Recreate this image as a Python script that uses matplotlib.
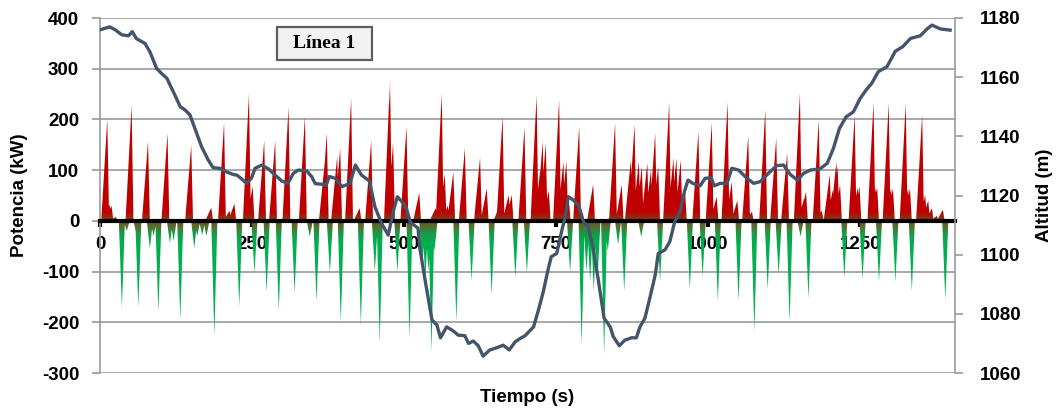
import numpy as np
import matplotlib
matplotlib.use("Agg")
import matplotlib.pyplot as plt
from matplotlib.colors import LinearSegmentedColormap
from matplotlib.patches import Polygon, Rectangle

# Power peaks: (time s, kW)
pos_time = [12, 16, 19, 26, 52, 79, 111, 150, 183, 204, 213, 221, 245, 251, 270, 288,
            310, 337, 370, 373, 390, 395, 413, 427, 446, 477, 482, 504, 525, 552, 558,
            562, 567, 572, 577, 581, 600, 625, 636, 657, 662, 672, 677, 698, 718, 724,
            728, 733, 738, 755, 762, 767, 771, 788, 811, 845, 847, 858, 873, 879, 886,
            891, 900, 906, 913, 918, 936, 943, 948, 955, 962, 984, 1006, 1014, 1032,
            1039, 1048, 1066, 1072, 1094, 1112, 1130, 1151, 1158, 1161, 1182, 1187,
            1200, 1205, 1211, 1213, 1217, 1241, 1246, 1249, 1272, 1276, 1278, 1297,
            1301, 1304, 1325, 1329, 1332, 1352, 1357, 1362, 1368, 1376, 1386]
pos_peak = [201, 32, 30, 8, 228, 157, 173, 149, 26, 193, 20, 34, 252, 68, 158, 158,
            224, 206, 120, 173, 127, 143, 242, 25, 158, 282, 153, 186, 55, 25, 35,
            252, 92, 30, 35, 96, 143, 125, 64, 30, 206, 51, 51, 185, 249, 100,
            157, 153, 60, 239, 117, 117, 40, 186, 72, 30, 193, 71, 120, 190, 117,
            107, 114, 100, 173, 107, 234, 124, 124, 120, 60, 176, 193, 48, 234,
            77, 40, 168, 18, 219, 163, 134, 254, 45, 58, 199, 20,
            91, 61, 117, 107, 71, 209, 66, 68, 234, 66, 66, 232,
            64, 64, 232, 64, 64, 209, 51, 40, 25, 10, 22]

neg_time = [36, 44, 60, 63, 82, 88, 96, 115, 121, 132, 155, 160, 168, 175, 188, 229,
            254, 274, 294, 320, 345, 356, 378, 396, 429, 452, 460, 489, 509, 530, 535,
            540, 545, 550, 586, 611, 644, 683, 702, 773, 792, 800, 806, 812, 818, 829,
            835, 852, 862, 890, 921, 970, 991, 1016, 1050, 1076, 1098, 1116, 1134,
            1152, 1165, 1224, 1254, 1281, 1308, 1335, 1390]
neg_peak = [-172, -20, -28, -170, -55, -30, -179, -44, -40, -195, -54, -30, -28, -30,
            -228, -169, -103, -140, -179, -143, -31, -159, -103, -201, -206, -100, -240,
            -101, -231, -90, -115, -100, -258, -60, -199, -118, -146, -112, -103, -102,
            -245, -100, -120, -140, -120, -264, -60, -47, -139, -31, -120, -136, -110,
            -158, -158, -218, -136, -107, -199, -31, -153, -113, -116, -120, -120,
            -139, -156]

# Altitude profile (time s, m)
alt_time = [0, 16, 25, 36, 47, 53, 60, 74, 82, 93, 101, 110, 123, 132, 140, 148, 156,
            167, 178, 186, 197, 208, 219, 225, 233, 241, 249, 255, 266, 277, 288, 299,
            309, 318, 326, 340, 348, 354, 365, 372, 377, 387, 398, 411, 420, 430, 443,
            452, 463, 474, 482, 489, 499, 504, 510, 523, 526, 535, 546, 554, 560, 570,
            581, 589, 600, 606, 614, 622, 630, 641, 652, 663, 673, 683, 691, 699, 713,
            721, 729, 736, 742, 751, 759, 765, 770, 778, 787, 795, 803, 811, 819, 829,
            839, 844, 854, 863, 874, 882, 888, 896, 904, 913, 918, 929, 937, 945, 954,
            961, 967, 975, 987, 995, 1005, 1010, 1020, 1031, 1039, 1050, 1064, 1075,
            1086, 1099, 1113, 1124, 1135, 1147, 1157, 1168, 1184, 1196, 1206, 1216,
            1227, 1239, 1250, 1260, 1269, 1280, 1294, 1308, 1320, 1333, 1349, 1360,
            1368, 1382, 1398]
alt_m = [1176, 1177, 1176, 1174.3, 1174, 1175.4, 1173, 1171.4, 1168.6, 1163, 1161.3,
         1159.6, 1154, 1150, 1148.9, 1147.2, 1142.7, 1136.5, 1132, 1129.4, 1129.2, 1128,
         1127.1, 1126.9, 1125.6, 1124.1, 1125.8, 1129.2, 1130.3, 1129, 1126.9, 1124.9,
         1124.1, 1127.5, 1128.6, 1128.3, 1126.4, 1124, 1123.8, 1123.5, 1126.4, 1125.8,
         1123, 1124.1, 1130.3, 1126.9, 1124.9, 1116.2, 1110.6, 1106.6, 1114.5, 1119.6,
         1117.3, 1115.6, 1111.1, 1108.9, 1102.1, 1090.9, 1077.9, 1076.2, 1071.9, 1075.6,
         1074.2, 1072.8, 1072.6, 1070, 1070.8, 1069.2, 1065.7, 1067.8, 1068.5, 1069.4,
         1067.8, 1070.6, 1071.7, 1072.6, 1075.6, 1081.3, 1087.5, 1094.2, 1099.3, 1100.4,
         1107.8, 1112.8, 1119.6, 1118.5, 1116.8, 1111.1, 1109.5, 1102.1, 1092, 1078.5,
         1075.6, 1072.3, 1069.2, 1071.1, 1071.9, 1071.9, 1075.6, 1078.5, 1085.2, 1093.1,
         1100.4, 1101.6, 1104.4, 1111.1, 1114.5, 1121.3, 1125.2, 1124.1, 1123.3, 1125.8,
         1126, 1123.3, 1124.1, 1124.1, 1129.2, 1128.6, 1125.8, 1124.1, 1124.7, 1127.5,
         1130.1, 1130.3, 1127.1, 1125.2, 1127.5, 1128.6, 1129, 1130.9, 1135.9, 1142.7,
         1146.6, 1148.3, 1152.8, 1155.7, 1157.9, 1161.9, 1163.5, 1168.8, 1170.3, 1173.1,
         1174, 1176.3, 1177.6, 1176.3, 1175.9]

x_ticks = [0, 250, 500, 750, 1000, 1250]
t_max = 1406

plt.rcParams['font.family'] = ['Liberation Sans', 'DejaVu Sans']
plt.rcParams['font.weight'] = 'bold'
plt.rcParams['axes.unicode_minus'] = False

# build the spiky power trace: each peak is a ramp up and a quick drop
t = np.arange(0, t_max + 0.25, 0.25)
pos = np.zeros_like(t)
for tp, v in zip(pos_time, pos_peak):
    pos = np.maximum(pos, np.interp(t, [tp - 10, tp, tp + 3], [0, v, 0], left=0, right=0))
neg = np.zeros_like(t)
for tp, v in zip(neg_time, neg_peak):
    neg = np.minimum(neg, np.interp(t, [tp - 5, tp, tp + 5], [0, v, 0], left=0, right=0))

fig = plt.figure(figsize=(10.59, 4.12), dpi=100)
ax = fig.add_axes([100 / 1059, 39 / 412, 855 / 1059, 355 / 412])

# vertical colour ramp: pale tips, red above zero, brown at zero, green below
stops = [(-300, (0.93, 0.98, 0.94)), (-250, (0.0, 0.69, 0.31)), (-45, (0.0, 0.69, 0.31)),
         (-25, (0.10, 0.60, 0.28)), (-10, (0.35, 0.42, 0.18)), (0, (0.45, 0.28, 0.12)),
         (18, (0.75, 0.0, 0.0)), (225, (0.75, 0.0, 0.0)), (295, (0.98, 0.88, 0.88)),
         (400, (1, 1, 1))]
cmap = LinearSegmentedColormap.from_list(
    'pot', [((v + 300) / 700, c) for v, c in stops])
grad = np.linspace(-300, 400, 1401).reshape(-1, 1)

for series in (pos, neg):
    verts = np.column_stack([np.r_[t[0], t, t[-1]], np.r_[0, series, 0]])
    poly = Polygon(verts, closed=True, facecolor='none', edgecolor='none')
    ax.add_patch(poly)
    im = ax.imshow(grad, cmap=cmap, vmin=-300, vmax=400, origin='lower', aspect='auto',
                   extent=[0, t_max, -300, 400], interpolation='bilinear', zorder=2)
    im.set_clip_path(poly)

ax.set_xlim(0, t_max)
ax.set_ylim(-300, 400)

ax.set_yticks(range(-300, 401, 100))
ax.grid(axis='y', color='#999999', linewidth=1.2)
ax.set_axisbelow(True)
ax.spines['bottom'].set_position(('data', 0))
ax.spines['bottom'].set_color('black')
ax.spines['bottom'].set_linewidth(3)
ax.spines['bottom'].set_zorder(4)
ax.spines['top'].set_visible(False)
ax.spines['right'].set_visible(False)
ax.spines['left'].set_color('#999999')
ax.spines['left'].set_linewidth(1.2)
ax.set_xticks(x_ticks)
ax.tick_params(axis='x', direction='out', length=4, width=3, color='black',
               labelsize=13.5, pad=7)
ax.tick_params(axis='y', direction='out', length=6, width=1.2, color='#999999',
               labelsize=13.5, pad=9)
ax.set_ylabel('Potencia (kW)', fontsize=13.5, fontweight='bold', labelpad=10)
ax.set_xlabel('Tiempo (s)', fontsize=13.5, fontweight='bold')
ax.xaxis.set_label_coords(0.5, -0.045)

ax2 = ax.twinx()
ax2.plot(alt_time, alt_m, color='#44546A', linewidth=2.4, solid_joinstyle='round')
ax2.set_ylim(1060, 1180)
ax2.set_yticks(range(1060, 1181, 20))
for side in ('top', 'left', 'bottom'):
    ax2.spines[side].set_visible(False)
ax2.spines['right'].set_color('#999999')
ax2.spines['right'].set_linewidth(1.2)
ax2.tick_params(axis='y', direction='out', length=6, width=1.2, color='#999999',
                labelsize=13.5, pad=12)
ax2.set_ylabel('Altitud (m)', fontsize=13.5, fontweight='bold', labelpad=10)

# series name box
fig.patches.append(Rectangle((277 / 1059, 1 - 60 / 412), 95 / 1059, 33 / 412,
                             transform=fig.transFigure, facecolor='#F2F2F2',
                             edgecolor='#5F5F5F', linewidth=1.6, zorder=10))
fig.text(324.5 / 1059, 1 - 44 / 412, 'Línea 1', ha='center', va='center',
         family=['Liberation Serif', 'DejaVu Serif'], fontweight='bold', fontsize=14,
         zorder=11)

fig.savefig('out.png', dpi=100)
